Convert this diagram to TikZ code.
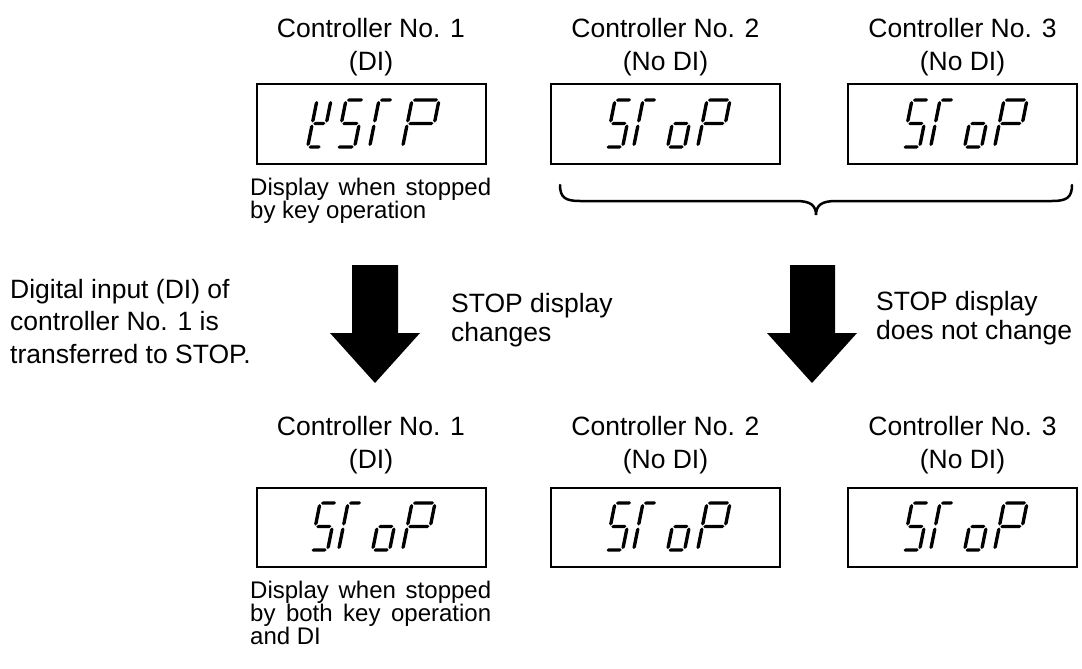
\documentclass[tikz,border=0pt]{standalone}
\usepackage{fontspec}
\setmainfont{Liberation Sans}
\newcommand\hsg[3]{\fill (#1,#3) -- (#1+1.7,#3-1.7) -- (#2-1.7,#3-1.7) -- (#2,#3) -- (#2-1.7,#3+1.7) -- (#1+1.7,#3+1.7) -- cycle;}
\newcommand\vsg[3]{\fill (#1,#2) -- (#1+1.7,#2+1.7) -- (#1+1.7,#3-1.7) -- (#1,#3) -- (#1-1.7,#3-1.7) -- (#1-1.7,#2+1.7) -- cycle;}
\newcommand\sgA{\hsg{1}{\dw-1}{0}}
\newcommand\sgB{\vsg{\dw}{1}{22.5}}
\newcommand\sgC{\vsg{\dw}{24.5}{46}}
\newcommand\sgD{\hsg{1}{\dw-1}{47}}
\newcommand\sgE{\vsg{0}{24.5}{46}}
\newcommand\sgF{\vsg{0}{1}{22.5}}
\newcommand\sgG{\hsg{1}{\dw-1}{23.5}}
\newcommand\sevdigit[4][20]{\begin{scope}[shift={(#2,#3)},xslant=0.2]\def\dw{#1}\foreach \s in {#4}{\csname sg\s\endcsname}\end{scope}}
\newcommand\wordSToP[2]{%
  \sevdigit[17]{#1+64}{#2}{A,F,G,C,D}%
  \sevdigit[14]{#1+92}{#2}{A,F,E}%
  \sevdigit[17]{#1+126}{#2}{G,C,D,E}%
  \sevdigit[23]{#1+156}{#2}{A,B,F,G,E}}
\newcommand\jline[1]{\makebox[241pt][s]{#1}}
\begin{document}
\begin{tikzpicture}[x=1pt,y=-1pt,
  lbl/.style={font=\fontsize{26.5}{33.5}\selectfont, align=center, inner sep=0pt, anchor=north},
  captxt/.style={font=\fontsize{24}{23}\selectfont, align=left, inner sep=0pt, anchor=north west},
  sidetxt/.style={font=\fontsize{26.5}{32.5}\selectfont, align=left, inner sep=0pt, anchor=north west},
  midtxt/.style={font=\fontsize{26.5}{29}\selectfont, align=left, inner sep=0pt, anchor=north west},
  disp/.style={draw, line width=2pt, minimum width=229pt, minimum height=79pt, inner sep=0pt},
  bigarrow/.style={fill=black},
  bracestyle/.style={line width=2.5pt, line cap=round}]
\useasboundingbox (0,0) rectangle (1082,669);
% top row
\node[disp] (t1) at (371,124) {};
\node[disp] (t2) at (665.5,124) {};
\node[disp] (t3) at (962.5,124) {};
\node[lbl] (tl1) at (371,18) {Controller No. 1\\(DI)};
\node[lbl] (tl2) at (665.5,18) {Controller No. 2\\(No DI)};
\node[lbl] (tl3) at (962.5,18) {Controller No. 3\\(No DI)};
\node[captxt] (tc1) at (250,178) {\jline{Display when stopped}\\by key operation};
\sevdigit[14]{317}{100}{F,E,B,G,D}
\sevdigit[18]{346}{100}{A,F,G,C,D}
\sevdigit[14]{379}{100}{A,F,E}
\sevdigit[27]{412}{100}{A,B,F,G,E}
\wordSToP{551}{100}
\wordSToP{848}{100}
% brace
\draw[bracestyle] (560,185) .. controls (560,198) and (566,201) .. (580,201) -- (796,201) .. controls (810,201) and (816,205) .. (816,215) .. controls (816,205) and (822,201) .. (836,201) -- (1052,201) .. controls (1066,201) and (1072,198) .. (1072,185);
% arrows
\fill[bigarrow] (352,265) -- (398,265) -- (398,333) -- (420,333) -- (375,383) -- (330,333) -- (352,333) -- cycle;
\fill[bigarrow] (790,265) -- (835,265) -- (835,333) -- (857,333) -- (812,383) -- (767,333) -- (790,333) -- cycle;
\node[sidetxt] (di) at (10,279) {Digital input (DI) of\\controller No. 1 is\\transferred to STOP.};
\node[midtxt] (ch) at (451,293) {STOP display\\changes};
\node[midtxt] (nc) at (876,291) {STOP display\\does not change};
% bottom row
\node[disp] (b1) at (371,527) {};
\node[disp] (b2) at (665.5,527) {};
\node[disp] (b3) at (962.5,527) {};
\node[lbl] (bl1) at (371,416) {Controller No. 1\\(DI)};
\node[lbl] (bl2) at (665.5,416) {Controller No. 2\\(No DI)};
\node[lbl] (bl3) at (962.5,416) {Controller No. 3\\(No DI)};
\node[captxt] (bc1) at (250,581) {\jline{Display when stopped}\\\jline{by both key operation}\\and DI};
\wordSToP{256}{503}
\wordSToP{551}{503}
\wordSToP{848}{503}
\end{tikzpicture}
\end{document}
